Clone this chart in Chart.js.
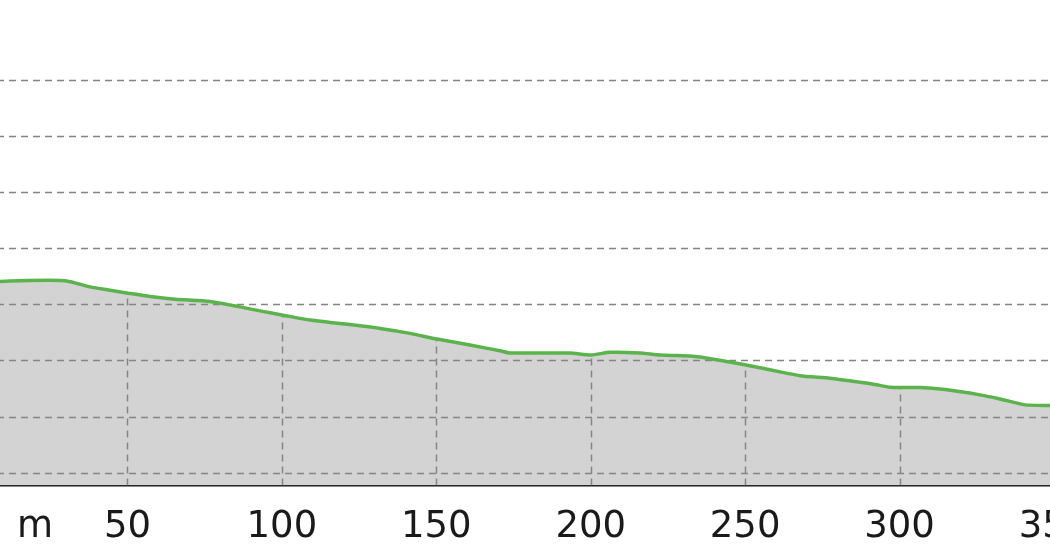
<!DOCTYPE html>
<html>
<head>
<meta charset="utf-8">
<script src="https://cdn.jsdelivr.net/npm/chart.js@4/dist/chart.umd.min.js"></script>
<style>
  html, body { margin: 0; padding: 0; width: 1050px; height: 560px; overflow: hidden; background: #fff; }
  #wrap { position: absolute; left: -100px; top: 0; width: 1250px; height: 582px; }
</style>
</head>
<body>
<div id="wrap"><canvas id="profile"></canvas></div>
<script>
// distance along the route (m) and elevation (m)
const distances = [0, 8.7, 15.2, 24.9, 30.4, 37.9, 44.4, 50.2, 57.3, 65.4, 76.7, 86.4, 92.9, 100.4,
  109.1, 115.6, 122.0, 131.8, 141.5, 150.2, 160.9, 170.6, 173.8, 193.3, 200.1, 206.2, 215.9,
  222.4, 232.1, 235.4, 249.9, 258.0, 267.7, 277.4, 287.2, 292.0, 296.9, 306.6, 314.7, 326.0,
  332.5, 340.6, 348.7, 350];
const elevations = [216.95, 217.03, 217.10, 217.14, 217.08, 216.55, 216.25, 215.99, 215.69, 215.45,
  215.25, 214.77, 214.41, 214.03, 213.59, 213.38, 213.19, 212.85, 212.41, 211.90, 211.37, 210.86,
  210.66, 210.66, 210.48, 210.72, 210.66, 210.48, 210.39, 210.30, 209.62, 209.17, 208.64, 208.41,
  208.06, 207.86, 207.61, 207.59, 207.40, 206.93, 206.57, 206.04, 205.99, 205.98];
const xTicks = [0, 50, 100, 150, 200, 250, 300, 350];
const yTicks = [200, 205, 210, 215, 220, 225, 230, 235];
const unitLabel = 'm';

const points = distances.map((d, i) => ({ x: d, y: elevations[i] }));

const gridColor = '#858585';

const profileGrid = {
  id: 'profileGrid',
  afterDatasetDraw(chart, args) {
    if (args.index !== 1) return;
    const { ctx, chartArea, scales: { x, y } } = chart;
    ctx.save();
    ctx.strokeStyle = gridColor;
    ctx.lineWidth = 1.5;
    ctx.setLineDash([7, 5]);
    yTicks.forEach(v => {
      const py = Math.round(y.getPixelForValue(v)) + 0.5;
      ctx.beginPath();
      ctx.moveTo(chartArea.left, py);
      ctx.lineTo(chartArea.right, py);
      ctx.stroke();
    });
    // vertical lines only inside the filled profile
    const pts = args.meta.data;
    ctx.beginPath();
    ctx.moveTo(pts[0].x, chartArea.bottom);
    pts.forEach(p => ctx.lineTo(p.x, p.y));
    ctx.lineTo(pts[pts.length - 1].x, chartArea.bottom);
    ctx.closePath();
    ctx.clip();
    xTicks.forEach(v => {
      const px = Math.round(x.getPixelForValue(v)) + 0.5;
      ctx.beginPath();
      ctx.moveTo(px, chartArea.bottom);
      ctx.lineTo(px, chartArea.top);
      ctx.stroke();
    });
    ctx.restore();
  },
  afterDraw(chart) {
    const { ctx, scales: { x } } = chart;
    ctx.save();
    ctx.font = '37px "DejaVu Sans"';
    ctx.fillStyle = '#1a1a1a';
    ctx.textAlign = 'center';
    ctx.textBaseline = 'middle';
    ctx.fillText(unitLabel, x.getPixelForValue(0) + 62, 527);
    ctx.restore();
  }
};

new Chart(document.getElementById('profile'), {
  type: 'line',
  data: {
    datasets: [
      {
        label: 'profile line',
        data: points,
        borderColor: '#5ab44b',
        borderWidth: 3.5,
        pointRadius: 0,
        fill: false,
        tension: 0.2,
        order: 0
      },
      {
        label: 'profile area',
        data: points,
        borderWidth: 0,
        borderColor: 'rgba(0,0,0,0)',
        backgroundColor: '#d3d3d3',
        pointRadius: 0,
        fill: 'start',
        tension: 0.2,
        order: 1
      }
    ]
  },
  options: {
    responsive: true,
    maintainAspectRatio: false,
    animation: false,
    layout: { padding: { left: 73, right: 96, top: 0, bottom: 12 } },
    plugins: { legend: { display: false }, tooltip: { enabled: false } },
    scales: {
      x: {
        type: 'linear',
        min: 0,
        max: 350,
        afterBuildTicks: axis => { axis.ticks = xTicks.map(v => ({ value: v })); },
        grid: { display: false, drawTicks: false },
        border: { display: true, color: '#111', width: 2.5 },
        ticks: {
          padding: 20,
          maxRotation: 0,
          color: '#1a1a1a',
          font: { family: 'DejaVu Sans', size: 37 }
        }
      },
      y: {
        display: false,
        min: 198.85,
        max: 242.1,
        afterBuildTicks: axis => { axis.ticks = yTicks.map(v => ({ value: v })); }
      }
    }
  },
  plugins: [profileGrid]
});
</script>
</body>
</html>
